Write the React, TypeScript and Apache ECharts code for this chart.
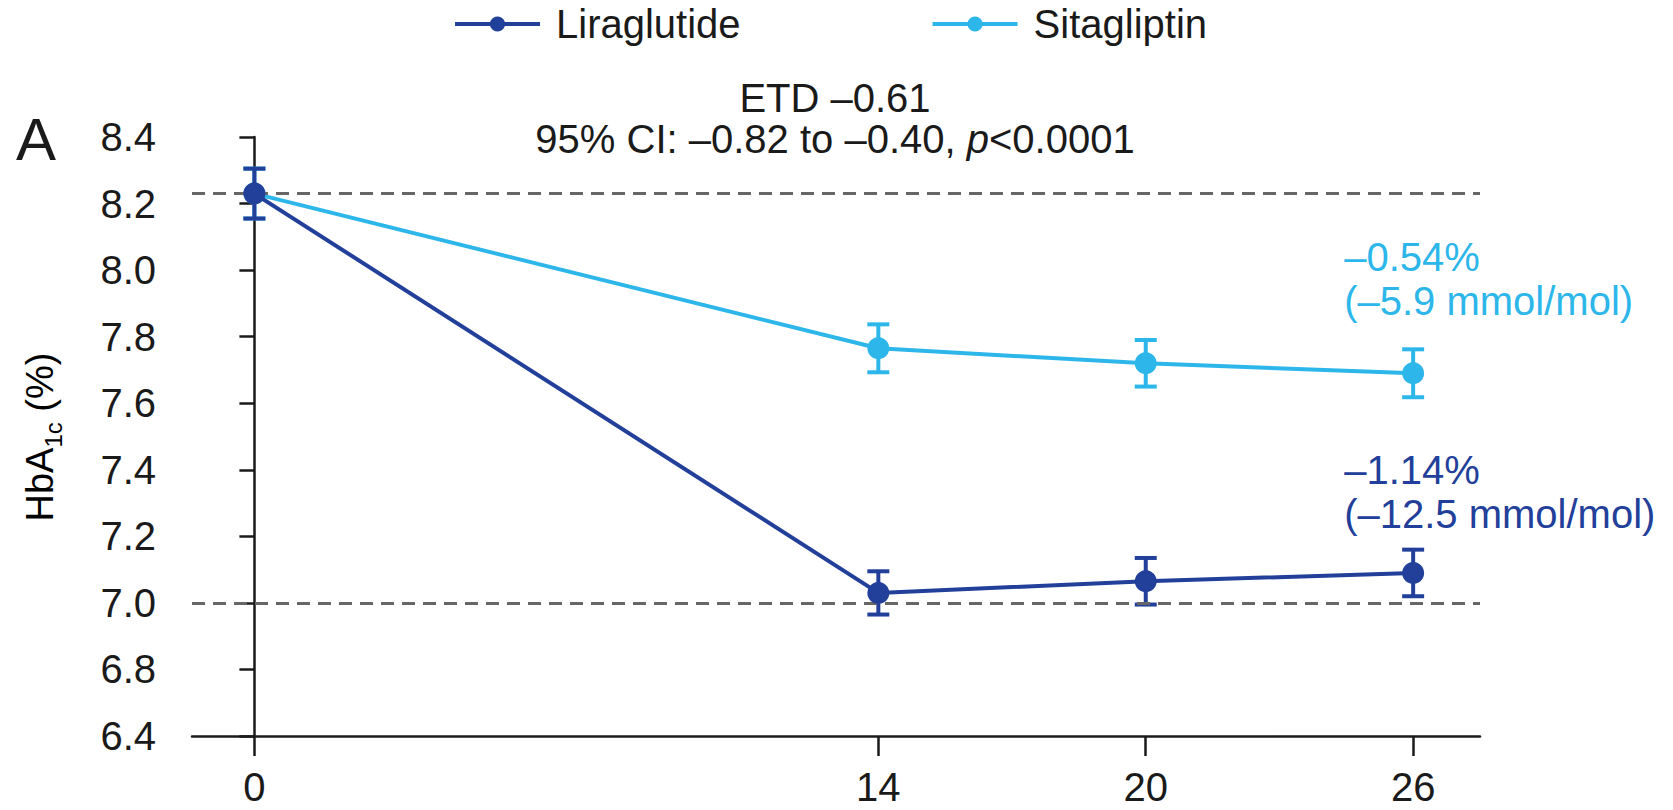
import React, { useEffect, useRef } from "react";
import * as echarts from "echarts";

// Study weeks at which HbA1c was measured
const weeks = [0, 14, 20, 26];

// Mean HbA1c (%) and error half-widths per treatment arm
const liraMean = [8.23, 7.03, 7.065, 7.09];
const liraErr = [0.075, 0.065, 0.07, 0.07];
const sitaMean = [8.23, 7.765, 7.72, 7.69];
const sitaErr = [0.075, 0.072, 0.07, 0.072];

// Reference lines: baseline mean and the 7.0% target
const baselineLevel = 8.23;
const targetLevel = 7.0;

// Axis ticks (the lowest y tick sits after an axis break)
const xTicks = [0, 14, 20, 26];
const yTickValues = [6.6, 6.8, 7.0, 7.2, 7.4, 7.6, 7.8, 8.0, 8.2, 8.4];
const yTickLabels = ["6.4", "6.8", "7.0", "7.2", "7.4", "7.6", "7.8", "8.0", "8.2", "8.4"];

const LIRA = "#22409a";
const SITA = "#2db6ea";
const INK = "#1a1a1a";
const FONT = "'Liberation Sans', Arial, Helvetica, sans-serif";

const fmt = (v: number) => (v < 0 ? "\u2013" : "") + Math.abs(v);

function errorData(mean: number[], err: number[]) {
  return weeks.map((w, i) => [w, mean[i] - err[i], mean[i] + err[i]]);
}

function errorSeries(name: string, mean: number[], err: number[], color: string, z: number) {
  return {
    type: "custom",
    name: name + " error",
    z,
    silent: true,
    data: errorData(mean, err),
    renderItem: (_params: any, api: any) => {
      const x = api.value(0);
      const lo = api.coord([x, api.value(1)]);
      const hi = api.coord([x, api.value(2)]);
      const hw = 11;
      const style = { stroke: color, lineWidth: 4 };
      return {
        type: "group",
        children: [
          { type: "line", shape: { x1: hi[0], y1: hi[1], x2: lo[0], y2: lo[1] }, style },
          { type: "line", shape: { x1: hi[0] - hw, y1: hi[1], x2: hi[0] + hw, y2: hi[1] }, style },
          { type: "line", shape: { x1: lo[0] - hw, y1: lo[1], x2: lo[0] + hw, y2: lo[1] }, style },
        ],
      };
    },
  };
}

function changeLabel(mean: number[]) {
  const d = mean[mean.length - 1] - baselineLevel;
  const pct = fmt(Number(d.toFixed(2))) + "%";
  const mmol = "(" + fmt(Number((d * 10.929).toFixed(1))) + " mmol/mol)";
  return pct + "\n" + mmol;
}

export default function App() {
  const ref = useRef<HTMLDivElement>(null);

  useEffect(() => {
    if (!ref.current) return;
    const chart = echarts.init(ref.current, null, { renderer: "svg" });

    const baseGraphic: any[] = [
      {
        type: "text",
        x: 16,
        y: 139,
        style: { text: "A", font: `60px ${FONT}`, fill: INK, verticalAlign: "middle" },
      },
      {
        type: "text",
        x: 835,
        y: 98,
        style: { text: "ETD \u20130.61", font: `40px ${FONT}`, fill: INK, align: "center", verticalAlign: "middle" },
      },
      {
        type: "text",
        x: 835,
        y: 139,
        style: {
          text: "{n|95% CI: \u20130.82 to \u20130.40, }{i|p}{n|<0.0001}",
          align: "center",
          verticalAlign: "middle",
          rich: {
            n: { fontSize: 40, fontFamily: FONT, fill: INK, color: INK },
            i: { fontSize: 40, fontFamily: FONT, fontStyle: "italic", fill: INK, color: INK },
          },
        },
      },
      {
        type: "text",
        x: 40,
        y: 437,
        rotation: Math.PI / 2,
        style: {
          text: "{n|HbA}{s|1c}{n| (%)}",
          align: "center",
          verticalAlign: "middle",
          rich: {
            n: { fontSize: 38, fontFamily: FONT, color: INK, lineHeight: 50, verticalAlign: "middle" },
            s: { fontSize: 24, fontFamily: FONT, color: INK, lineHeight: 24, verticalAlign: "bottom" },
          },
        },
      },
    ];

    const option: any = {
      animation: false,
      backgroundColor: "#ffffff",
      textStyle: { fontFamily: FONT },
      legend: {
        data: ["Liraglutide", "Sitagliptin"],
        left: 453,
        top: 4,
        padding: 0,
        itemWidth: 85,
        itemHeight: 19,
        itemGap: 190,
        lineStyle: { width: 4 },
        textStyle: { fontSize: 40, color: INK, fontFamily: FONT, padding: [0, 0, 0, 11] },
      },
      grid: { left: 192, top: 137, width: 1288, height: 599, containLabel: false },
      xAxis: {
        type: "value",
        min: -1.4,
        max: 27.5,
        splitLine: { show: false },
        axisLine: { show: true, onZero: false, lineStyle: { color: INK, width: 2.5 } },
        axisTick: { show: true, length: 20, customValues: xTicks, lineStyle: { color: INK, width: 2.5 } },
        axisLabel: {
          customValues: xTicks,
          fontSize: 40,
          lineHeight: 40,
          color: INK,
          margin: 31,
          fontFamily: FONT,
        },
      },
      yAxis: {
        type: "value",
        min: 6.6,
        max: 8.4,
        interval: 0.2,
        splitLine: { show: false },
        axisLine: { show: true, lineStyle: { color: INK, width: 2.5 } },
        axisTick: { show: true, length: 15, customValues: yTickValues, lineStyle: { color: INK, width: 2.5 } },
        axisLabel: {
          customValues: yTickValues,
          fontSize: 40,
          color: INK,
          margin: 36,
          fontFamily: FONT,
          formatter: (v: number) => {
            const i = yTickValues.findIndex((t) => Math.abs(t - v) < 1e-6);
            return i >= 0 ? yTickLabels[i] : "";
          },
        },
      },
      graphic: baseGraphic,
      series: [
        {
          ...errorSeries("Sitagliptin", sitaMean, sitaErr, SITA, 2),
          markLine: {
            silent: true,
            symbol: ["none", "none"],
            label: { show: false },
            lineStyle: { type: [13, 8], color: "#666666", width: 2.8 },
            data: [{ yAxis: baselineLevel }, { yAxis: targetLevel }],
          },
        },
        {
          type: "line",
          name: "Sitagliptin",
          z: 3,
          data: weeks.map((w, i) => [w, sitaMean[i]]),
          symbol: "circle",
          symbolSize: 22,
          color: SITA,
          itemStyle: { color: SITA },
          lineStyle: { color: SITA, width: 4 },
        },
        errorSeries("Liraglutide", liraMean, liraErr, LIRA, 4),
        {
          type: "line",
          name: "Liraglutide",
          z: 5,
          data: weeks.map((w, i) => [w, liraMean[i]]),
          symbol: "circle",
          symbolSize: 22,
          color: LIRA,
          itemStyle: { color: LIRA },
          lineStyle: { color: LIRA, width: 4 },
        },
      ],
    };

    chart.setOption(option);

    // Change-from-baseline notes placed beside the final visit of each arm
    const lastWeek = weeks[weeks.length - 1];
    const sitaPt = chart.convertToPixel({ gridIndex: 0 }, [lastWeek, sitaMean[sitaMean.length - 1]]) as number[];
    const liraPt = chart.convertToPixel({ gridIndex: 0 }, [lastWeek, liraMean[liraMean.length - 1]]) as number[];
    const note = (pt: number[], dy: number, text: string, color: string) => ({
      type: "text",
      x: pt[0] - 69,
      y: pt[1] + dy,
      style: {
        text,
        font: `40px ${FONT}`,
        fill: color,
        lineHeight: 44,
        align: "left",
        verticalAlign: "middle",
      },
    });
    chart.setOption({
      graphic: [
        ...baseGraphic,
        note(sitaPt, -94, changeLabel(sitaMean), SITA),
        note(liraPt, -81, changeLabel(liraMean), LIRA),
      ],
    });

    return () => chart.dispose();
  }, []);

  return (
    <div
      ref={ref}
      style={{ position: "fixed", left: 0, top: 0, width: 1673, height: 810, background: "#fff" }}
    />
  );
}
